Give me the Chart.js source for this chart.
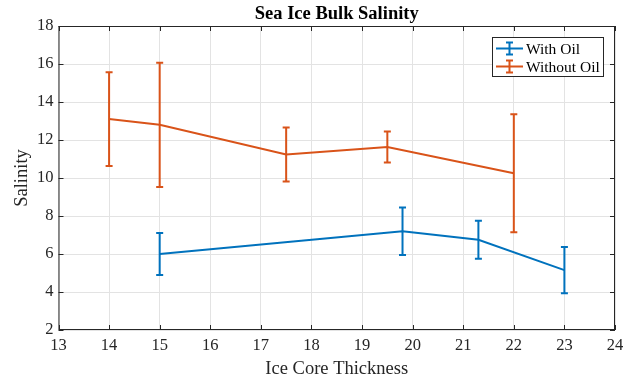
<!DOCTYPE html>
<html>
<head>
<meta charset="utf-8">
<script src="https://cdn.jsdelivr.net/npm/chart.js@4"></script>
<style>
  html, body { margin: 0; padding: 0; background: #fff; }
  #wrap { width: 634px; height: 382px; position: relative; }
</style>
</head>
<body>
<div id="wrap"><canvas id="c" width="634" height="382"></canvas></div>
<script>
// Ice core thickness and bulk salinity, with symmetric error half-widths
const thicknessWithOil = [15, 19.8, 21.3, 23];
const salinityWithOil = [6.0, 7.2, 6.75, 5.15];
const errorWithOil = [1.1, 1.25, 1.0, 1.22];

const thicknessWithoutOil = [14, 15, 17.5, 19.5, 22];
const salinityWithoutOil = [13.1, 12.8, 11.24, 11.63, 10.25];
const errorWithoutOil = [2.47, 3.27, 1.42, 0.82, 3.1];

const xTicks = [13, 14, 15, 16, 17, 18, 19, 20, 21, 22, 23, 24];
const yTicks = [2, 4, 6, 8, 10, 12, 14, 16, 18];

const seriesNames = ['With Oil', 'Without Oil'];
const BLUE = '#0072BD';
const ORANGE = '#D95319';
const SERIF = '"Liberation Serif", "Times New Roman", serif';

function toPoints(xs, ys) { return xs.map((x, i) => ({ x: x, y: ys[i] })); }

const errorArrays = [errorWithOil, errorWithoutOil];

// Draws vertical error bars with caps, the framed axes box, inward ticks,
// the title, axis labels and the legend.
const decorations = {
  id: 'decorations',
  afterDatasetsDraw(chart) {
    const ctx = chart.ctx;
    const xs = chart.scales.x, ys = chart.scales.y;
    chart.data.datasets.forEach((ds, di) => {
      const errs = errorArrays[di];
      ctx.save();
      ctx.strokeStyle = ds.borderColor;
      ctx.lineWidth = 2;
      ds.data.forEach((p, i) => {
        const px = xs.getPixelForValue(p.x);
        const top = ys.getPixelForValue(p.y + errs[i]);
        const bot = ys.getPixelForValue(p.y - errs[i]);
        ctx.beginPath();
        ctx.moveTo(px, top); ctx.lineTo(px, bot);
        ctx.moveTo(px - 3.5, top); ctx.lineTo(px + 3.5, top);
        ctx.moveTo(px - 3.5, bot); ctx.lineTo(px + 3.5, bot);
        ctx.stroke();
      });
      ctx.restore();
    });
  },
  afterDraw(chart) {
    const ctx = chart.ctx;
    const a = chart.chartArea;
    const xs = chart.scales.x, ys = chart.scales.y;
    ctx.save();
    // frame
    ctx.strokeStyle = '#262626';
    ctx.lineWidth = 1;
    ctx.strokeRect(a.left + 0.5, a.top + 0.5, a.right - a.left - 1, a.bottom - a.top - 1);
    // inward ticks on all sides
    ctx.beginPath();
    xTicks.forEach(v => {
      const px = Math.round(xs.getPixelForValue(v)) + 0.5;
      ctx.moveTo(px, a.bottom); ctx.lineTo(px, a.bottom - 5);
      ctx.moveTo(px, a.top); ctx.lineTo(px, a.top + 5);
    });
    yTicks.forEach(v => {
      const py = Math.round(ys.getPixelForValue(v)) + 0.5;
      ctx.moveTo(a.left, py); ctx.lineTo(a.left + 5, py);
      ctx.moveTo(a.right, py); ctx.lineTo(a.right - 5, py);
    });
    ctx.stroke();

    // title
    ctx.fillStyle = '#000';
    ctx.font = 'bold 18.5px ' + SERIF;
    ctx.textAlign = 'center';
    ctx.textBaseline = 'middle';
    ctx.fillText('Sea Ice Bulk Salinity', (a.left + a.right) / 2, 14);

    // axis labels
    ctx.fillStyle = '#262626';
    ctx.font = '18.5px ' + SERIF;
    ctx.fillText('Ice Core Thickness', (a.left + a.right) / 2, 369);
    ctx.save();
    ctx.translate(22, (a.top + a.bottom) / 2);
    ctx.rotate(-Math.PI / 2);
    ctx.fillText('Salinity', 0, 0);
    ctx.restore();

    // legend
    const bx = 492.5, by = 37.5, bw = 111, bh = 39;
    ctx.fillStyle = '#fff';
    ctx.fillRect(bx, by, bw, bh);
    ctx.strokeStyle = '#262626';
    ctx.lineWidth = 1;
    ctx.strokeRect(bx, by, bw, bh);
    const rows = [48.5, 66.5];
    chart.data.datasets.forEach((ds, di) => {
      const cy = rows[di];
      ctx.strokeStyle = ds.borderColor;
      ctx.lineWidth = 2;
      ctx.beginPath();
      ctx.moveTo(496, cy); ctx.lineTo(523, cy);
      ctx.moveTo(509.5, cy - 6); ctx.lineTo(509.5, cy + 6);
      ctx.moveTo(506, cy - 6); ctx.lineTo(513, cy - 6);
      ctx.moveTo(506, cy + 6); ctx.lineTo(513, cy + 6);
      ctx.stroke();
      ctx.fillStyle = '#000';
      ctx.font = '15.5px ' + SERIF;
      ctx.textAlign = 'left';
      ctx.fillText(seriesNames[di], 526, cy + 1);
    });
    ctx.restore();
  }
};

new Chart(document.getElementById('c'), {
  type: 'line',
  data: {
    datasets: [
      {
        label: seriesNames[0],
        data: toPoints(thicknessWithOil, salinityWithOil),
        borderColor: BLUE,
        backgroundColor: BLUE,
        borderWidth: 2,
        pointRadius: 0,
        tension: 0
      },
      {
        label: seriesNames[1],
        data: toPoints(thicknessWithoutOil, salinityWithoutOil),
        borderColor: ORANGE,
        backgroundColor: ORANGE,
        borderWidth: 2,
        pointRadius: 0,
        tension: 0
      }
    ]
  },
  options: {
    responsive: false,
    animation: false,
    layout: { padding: { top: 26, right: 19, left: 0, bottom: 0 } },
    plugins: { legend: { display: false }, tooltip: { enabled: false }, title: { display: false } },
    scales: {
      x: {
        type: 'linear',
        min: 13, max: 24,
        afterBuildTicks(scale) { scale.ticks = xTicks.map(v => ({ value: v })); },
        afterFit(scale) { scale.height = 52; },
        grid: { color: '#e3e3e3', drawTicks: false },
        border: { display: false },
        ticks: { color: '#262626', font: { family: SERIF, size: 16.5 }, padding: 6, maxRotation: 0 }
      },
      y: {
        type: 'linear',
        min: 2, max: 18,
        afterBuildTicks(scale) { scale.ticks = yTicks.map(v => ({ value: v })); },
        afterFit(scale) { scale.width = 58.5; },
        grid: { color: '#e3e3e3', drawTicks: false },
        border: { display: false },
        ticks: { color: '#262626', font: { family: SERIF, size: 16.5 }, padding: 5 }
      }
    }
  },
  plugins: [decorations]
});
</script>
</body>
</html>
